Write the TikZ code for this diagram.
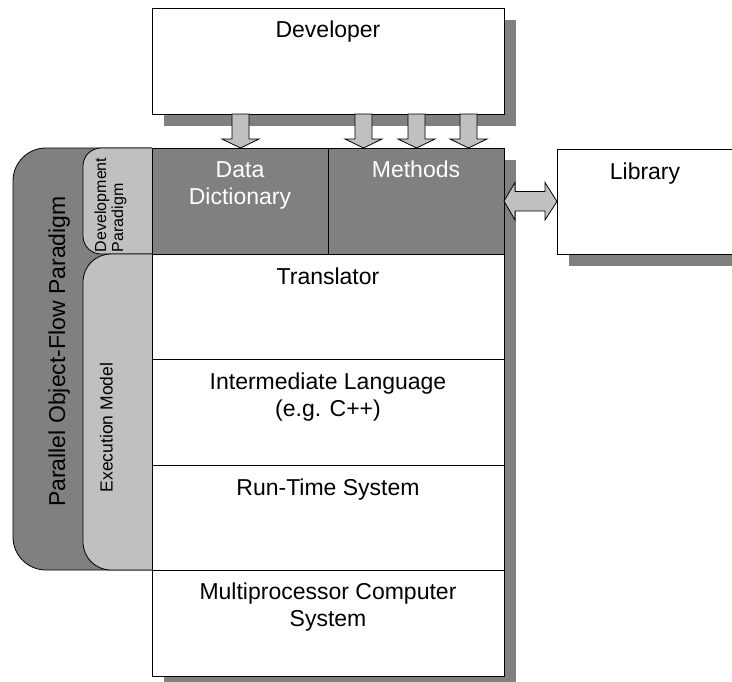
\documentclass[tikz,border=0pt]{standalone}
\usepackage{fontspec}
\setmainfont{Liberation Sans}
\usetikzlibrary{calc}
\definecolor{darkfill}{HTML}{808080}
\definecolor{lightfill}{HTML}{C0C0C0}
\begin{document}
\begin{tikzpicture}[x=1bp,y=-1bp,
  every node/.style={inner sep=0pt, outer sep=0pt},
  box/.style={draw=black, line width=0.8bp, fill=white, anchor=north west},
  darkbox/.style={box, fill=darkfill},
  shadowbox/.style={fill=darkfill},
  panel/.style={draw=black, line width=0.8bp},
  big/.style={font=\fontsize{23bp}{27bp}\selectfont, anchor=base},
  blockarrow/.style={draw=black, line width=0.8bp, fill=lightfill, line join=miter},
  dropshape/.pic={\draw[blockarrow] (-8.5,0) -- (-8.5,25) -- (-18.5,25) -- (0,34)
      -- (18.5,25) -- (8.5,25) -- (8.5,0) -- cycle;}]
\useasboundingbox (0,0) rectangle (732,682);

% drop shadows
\fill[darkfill] (164,20) rectangle (516,126);
\fill[darkfill] (164,160) rectangle (516,682);
\fill[darkfill] (569,161) rectangle (745,266);

% side panels with rounded left corners
\filldraw[panel, fill=darkfill, rounded corners=33bp]
  (152,148) -- (13,148) -- (13,570) -- (152,570);
\filldraw[panel, fill=lightfill, rounded corners=18bp]
  (152,148) -- (83,148) -- (83,254) -- (152,254);
\filldraw[panel, fill=lightfill, rounded corners=28bp]
  (152,254) -- (83,254) -- (83,570) -- (152,570);

% boxes
\node[box, minimum width=352bp, minimum height=106bp] (dev) at (152,8) {};
\node[box, minimum width=175.5bp, minimum height=105bp] (lib) at (557,149) {};
\node[darkbox, minimum width=176bp, minimum height=106bp] (devdata) at (152,148) {};
\node[darkbox, minimum width=176bp, minimum height=106bp] (devmeth) at (328,148) {};
\node[box, minimum width=352bp, minimum height=105bp] (trans) at (152,254) {};
\node[box, minimum width=352bp, minimum height=106bp] (inter) at (152,359) {};
\node[box, minimum width=352bp, minimum height=105bp] (runtime) at (152,465) {};
\node[box, minimum width=352bp, minimum height=106bp] (mp) at (152,570) {};

% block arrows from the developer into the development layer
\foreach \xo in {88.5, 211.5, 264.5, 316.5}
  \pic at ($(dev.south west)+(\xo,0)$) {dropshape};

% two-way block arrow between the methods and the library
\draw[blockarrow] (devmeth.east) -- ++(11,-18.5) -- ++(0,9) -- ++(30,0) -- ++(0,-9)
  -- (lib.west) -- ++(-12,18.5) -- ++(0,-9) -- ++(-30,0) -- ++(0,9) -- cycle;

% labels
\node[big] (tdev) at (328,38) {Developer};
\node[big] (tlib) at (645,179.5) {Library};
\node[big, text=white] (tdata) at (240,177) {Data};
\node[big, text=white] (tdict) at (240,204) {Dictionary};
\node[big, text=white] (tmeth) at (416,177) {Methods};
\node[big] (ttrans) at (328,284) {Translator};
\node[big] (tinter) at (328,389) {Intermediate Language};
\node[big] (tcpp) at (328,416) {(e.g. C++)};
\node[big] (trun) at (328,495) {Run-Time System};
\node[big] (tmp) at (328,599) {Multiprocessor Computer};
\node[big] (tsys) at (328,626) {System};

\node[big, rotate=90] (tpof) at (65,351.5) {Parallel Object-Flow Paradigm};
\node[font=\fontsize{17.5bp}{20bp}\selectfont, rotate=90, anchor=base] (texec) at (112.5,427.5) {Execution Model};
\node[font=\fontsize{16bp}{19bp}\selectfont, rotate=90, anchor=base west] (tdevp1) at (106,252) {Development};
\node[font=\fontsize{16bp}{19bp}\selectfont, rotate=90, anchor=base west] (tdevp2) at (123,252) {Paradigm};
\end{tikzpicture}
\end{document}
